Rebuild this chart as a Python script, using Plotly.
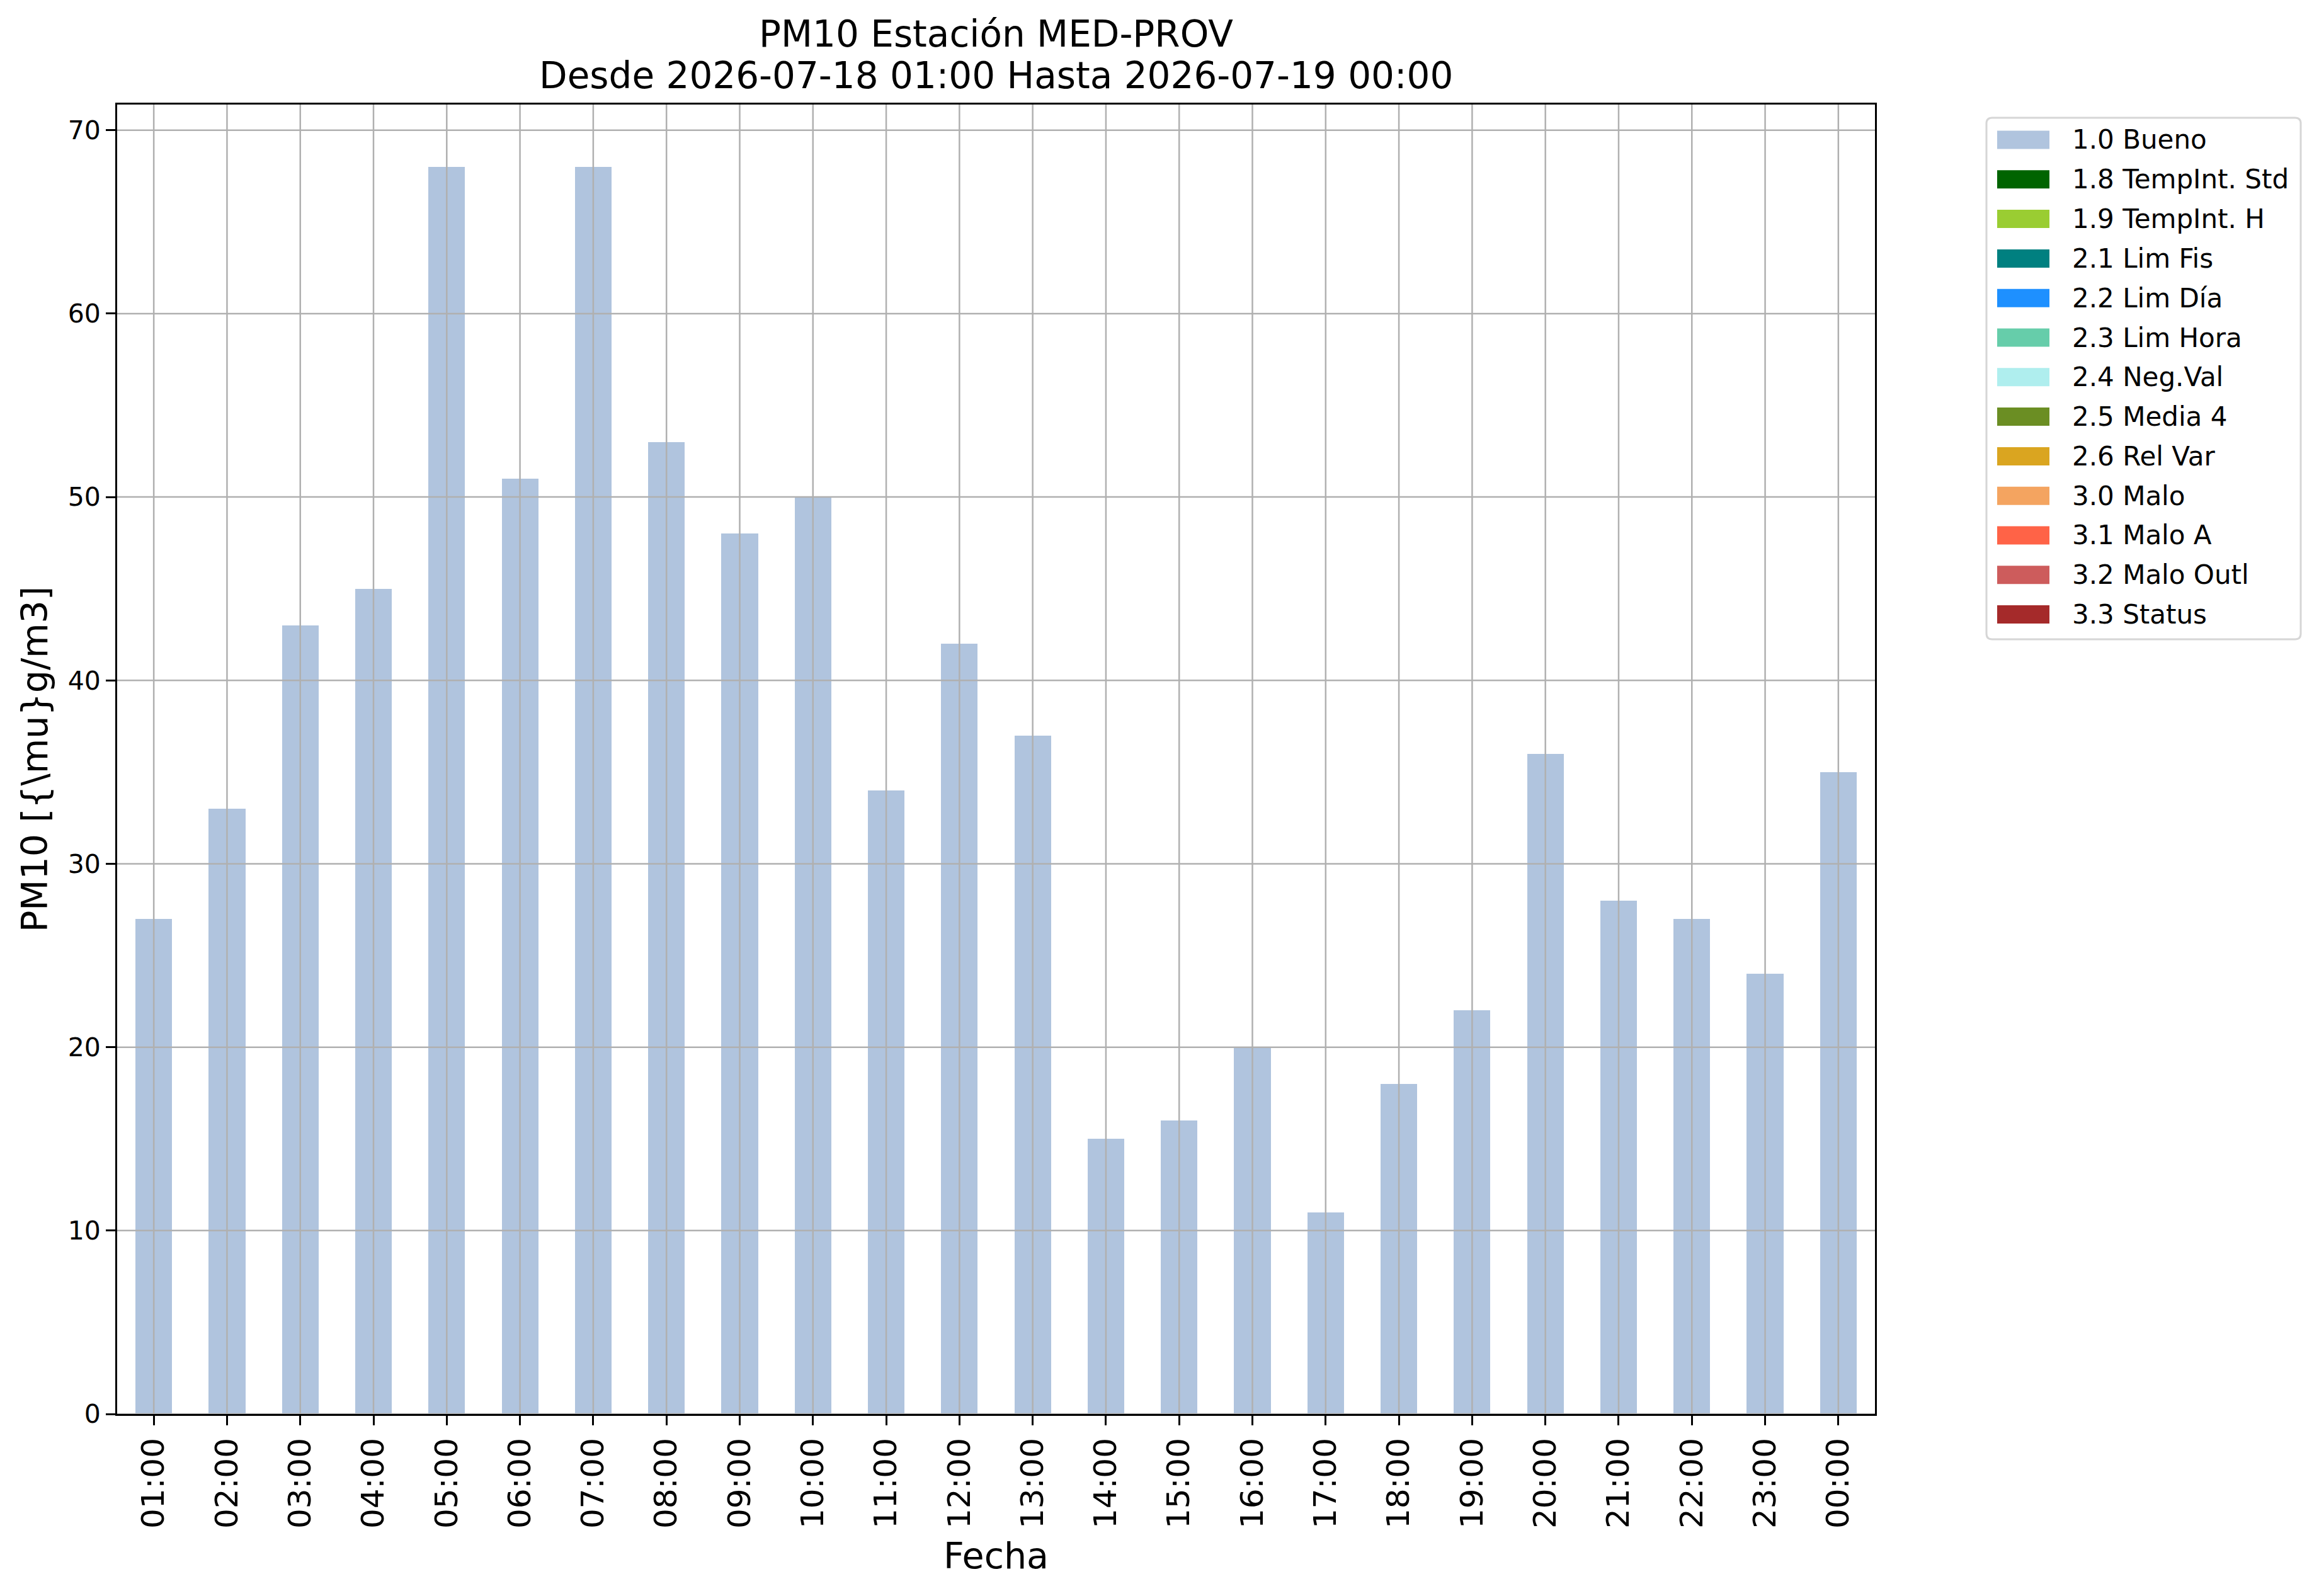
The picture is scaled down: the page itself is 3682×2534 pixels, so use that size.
import plotly.graph_objects as go

# hourly PM10 values, 2026-07-18 01:00 .. 2026-07-19 00:00
hours = ["01:00", "02:00", "03:00", "04:00", "05:00", "06:00", "07:00", "08:00",
         "09:00", "10:00", "11:00", "12:00", "13:00", "14:00", "15:00", "16:00",
         "17:00", "18:00", "19:00", "20:00", "21:00", "22:00", "23:00", "00:00"]
pm10 = [27, 33, 43, 45, 68, 51, 68, 53, 48, 50, 34, 42,
        37, 15, 16, 20, 11, 18, 22, 36, 28, 27, 24, 35]
# validation flag of each hour (all good here)
hour_flag = ["1.0 Bueno"] * 24

flag_names = ["1.0 Bueno", "1.8 TempInt. Std", "1.9 TempInt. H", "2.1 Lim Fis",
              "2.2 Lim Día", "2.3 Lim Hora", "2.4 Neg.Val", "2.5 Media 4",
              "2.6 Rel Var", "3.0 Malo", "3.1 Malo A", "3.2 Malo Outl", "3.3 Status"]
flag_colors = ["#B0C4DE", "#006400", "#9ACD32", "#008080", "#1E90FF", "#66CDAA",
               "#AFEEEE", "#6B8E23", "#DAA520", "#F4A460", "#FF6347", "#CD5C5C",
               "#A52A2A"]
y_ticks = [0, 10, 20, 30, 40, 50, 60, 70]

title_lines = ["PM10 Estación MED-PROV",
               "Desde 2026-07-18 01:00 Hasta 2026-07-19 00:00"]

W, H = 3682, 2534
L, R, T, B = 186, 2977, 166, 2245   # plot area in pixels
FONT = "DejaVu Sans"


def px(x):
    return (x - L) / (R - L)


def py(y):
    return (B - y) / (B - T)


fig = go.Figure()

# one stacked series per flag, like a pandas stacked bar
for name, color in zip(flag_names, flag_colors):
    vals = [v if f == name else 0 for v, f in zip(pm10, hour_flag)]
    fig.add_trace(go.Bar(
        x=hours, y=vals, name=name, width=0.5,
        marker=dict(color=color, line=dict(width=0)),
        showlegend=False,
    ))

shapes = []
# grid drawn over the bars (matplotlib style)
for h in hours:
    shapes.append(dict(type="line", xref="x", yref="paper", x0=h, x1=h, y0=0, y1=1,
                       line=dict(color="#b0b0b0", width=2.5), layer="above"))
for t in y_ticks:
    shapes.append(dict(type="line", xref="paper", yref="y", x0=0, x1=1, y0=t, y1=t,
                       line=dict(color="#b0b0b0", width=2.5), layer="above"))

# legend box
bx0, bx1, by0, by1 = px(3154), px(3653), py(187), py(1015)
rx, ry = 9 / (R - L), 9 / (B - T)
path = (f"M{bx0 + rx},{by0} L{bx1 - rx},{by0} Q{bx1},{by0} {bx1},{by0 - ry} "
        f"L{bx1},{by1 + ry} Q{bx1},{by1} {bx1 - rx},{by1} "
        f"L{bx0 + rx},{by1} Q{bx0},{by1} {bx0},{by1 + ry} "
        f"L{bx0},{by0 - ry} Q{bx0},{by0} {bx0 + rx},{by0} Z")
shapes.append(dict(type="path", xref="paper", yref="paper", path=path,
                   fillcolor="white", line=dict(color="#d6d6d6", width=3)))

annotations = []
row0, row_step = 222, 62.8
for i, (name, color) in enumerate(zip(flag_names, flag_colors)):
    cy = row0 + i * row_step
    shapes.append(dict(type="rect", xref="paper", yref="paper",
                       x0=px(3171), x1=px(3254), y0=py(cy - 14.5), y1=py(cy + 14.5),
                       fillcolor=color, line=dict(width=0)))
    annotations.append(dict(xref="paper", yref="paper", x=px(3288), y=py(cy),
                            xanchor="left", yanchor="middle", text=name, showarrow=False,
                            font=dict(family=FONT, size=42, color="black")))

# two-line title centred over the axes
for line, cy in zip(title_lines, [54, 120]):
    annotations.append(dict(xref="paper", yref="paper", x=0.5, y=py(cy),
                            xanchor="center", yanchor="middle", text=line, showarrow=False,
                            font=dict(family=FONT, size=58, color="black")))

fig.update_layout(
    width=W, height=H,
    margin=dict(l=L, r=W - R, t=T, b=H - B, autoexpand=False),
    paper_bgcolor="white", plot_bgcolor="white",
    barmode="stack", bargap=0,
    font=dict(family=FONT, color="black"),
    shapes=shapes,
    annotations=annotations,
)

fig.update_xaxes(
    type="category", range=[-0.5, 23.5],
    showgrid=False, tickangle=-90,
    tickfont=dict(family=FONT, size=50),
    ticks="outside", ticklen=15, tickwidth=3, tickcolor="black",
    showline=True, mirror=True, linecolor="black", linewidth=3,
    title=dict(text="Fecha", font=dict(family=FONT, size=57), standoff=25),
)
fig.update_yaxes(
    range=[0, 71.4], tickvals=y_ticks,
    showgrid=False, zeroline=False,
    tickfont=dict(family=FONT, size=41),
    ticks="outside", ticklen=15, tickwidth=3, tickcolor="black",
    showline=True, mirror=True, linecolor="black", linewidth=3,
    title=dict(text="PM10 [{\\mu}g/m3]", font=dict(family=FONT, size=57), standoff=14),
)

fig.write_html("out.html", config={"displayModeBar": False},
               post_script="document.body.style.margin='0';")
